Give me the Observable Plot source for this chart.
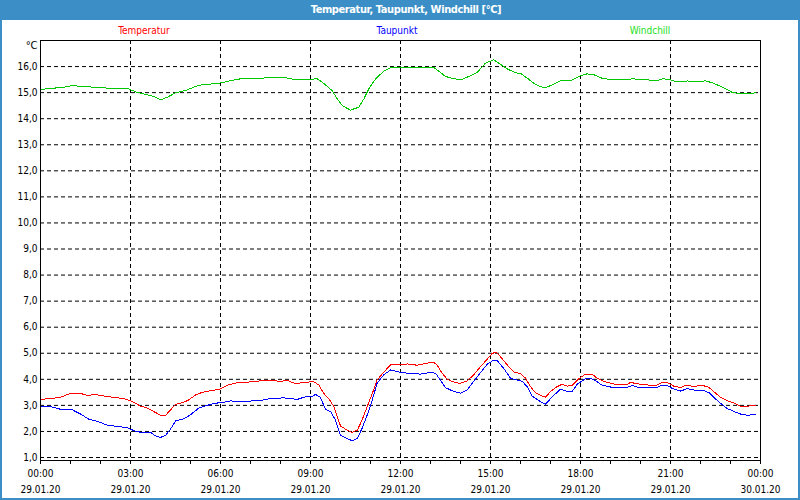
<!DOCTYPE html>
<html>
<head>
<meta charset="utf-8">
<script src="https://cdn.jsdelivr.net/npm/d3@7"></script>
<script src="https://cdn.jsdelivr.net/npm/@observablehq/plot@0.6"></script>
<style>
  html, body { margin: 0; padding: 0; background: #fff; }
  #wrap { position: relative; width: 800px; height: 500px; box-sizing: border-box;
          border: 2px solid #3c8fc6; border-top: none; overflow: hidden; background: #fff; }
  #title { height: 20px; background: #3c8fc6; color: #fff; margin: 0 -2px;
           font: bold 11px "DejaVu Sans Condensed", "DejaVu Sans", sans-serif; letter-spacing: -0.4px;
           line-height: 20px; text-align: center; padding-left: 12px; box-sizing: border-box; }
  .leg { position: absolute; top: 24px; transform: translateX(-50%); white-space: nowrap;
         font: 10px "DejaVu Sans Condensed", "DejaVu Sans", sans-serif; line-height: 13px; }
  #chart svg { display: block; }
</style>
</head>
<body>
<div id="wrap">
  <div id="title">Temperatur, Taupunkt, Windchill [°C]</div>
  <div class="leg" style="left:142px;color:#ff0000">Temperatur</div>
  <div class="leg" style="left:395px;color:#0000ff">Taupunkt</div>
  <div class="leg" style="left:648px;color:#22e022">Windchill</div>
  <div id="chart"></div>
</div>
<script>
// Hours since 29.01.20 00:00
const tempHours = [0,0.33,0.67,1.0,1.33,1.56,1.83,2.1,2.44,2.78,3.0,3.17,3.33,3.56,3.78,4.0,4.17,4.33,4.5,4.78,4.94,5.17,5.39,5.61,6.0,6.22,6.56,7.0,7.33,7.67,8.0,8.22,8.5,8.78,9.11,9.28,9.44,9.61,9.78,10.0,10.22,10.39,10.56,10.72,10.89,11.06,11.22,11.44,11.67,12.0,12.22,12.56,12.89,13.11,13.22,13.39,13.56,13.83,14.0,14.22,14.44,14.67,14.89,15.06,15.19,15.33,15.56,15.78,16.0,16.17,16.33,16.5,16.67,16.83,17.0,17.22,17.39,17.56,17.72,17.89,18.0,18.17,18.39,18.56,18.78,19.11,19.56,19.67,19.94,20.33,20.56,20.72,20.89,21.11,21.33,21.5,21.78,22.06,22.28,22.44,22.67,22.89,23.11,23.33,23.56,23.67,23.83];
const tempValues = [3.23,3.26,3.31,3.46,3.46,3.38,3.42,3.36,3.31,3.26,3.18,3.08,2.97,2.9,2.76,2.62,2.62,2.82,3.04,3.12,3.21,3.4,3.5,3.55,3.63,3.77,3.87,3.9,3.94,3.96,3.92,3.96,3.83,3.88,3.91,3.78,3.46,3.26,2.95,2.21,2.05,1.96,2.05,2.44,2.95,3.46,3.97,4.27,4.56,4.55,4.59,4.54,4.62,4.65,4.55,4.23,4.0,3.87,3.85,3.94,4.17,4.49,4.77,5.0,5.03,4.87,4.55,4.28,4.22,4.04,3.72,3.49,3.38,3.31,3.53,3.72,3.81,3.74,3.76,3.97,4.07,4.2,4.19,4.04,3.92,3.82,3.81,3.88,3.82,3.77,3.78,3.88,3.87,3.74,3.68,3.77,3.73,3.77,3.69,3.53,3.31,3.18,3.09,2.97,2.96,3.0,3.0];

const dewHours = [0,0.33,0.67,1.06,1.33,1.61,1.94,2.22,2.56,2.89,3.11,3.33,3.67,3.83,4.0,4.17,4.33,4.5,4.78,5.0,5.28,5.56,5.78,6.0,6.33,6.78,7.33,7.67,8.11,8.56,8.83,9.06,9.17,9.33,9.5,9.67,9.83,10.0,10.22,10.39,10.56,10.72,10.89,11.06,11.22,11.44,11.67,12.0,12.28,12.67,13.0,13.17,13.33,13.5,13.78,14.0,14.22,14.44,14.67,14.89,15.11,15.22,15.44,15.67,15.89,16.06,16.22,16.39,16.61,16.83,17.06,17.33,17.56,17.72,17.89,18.0,18.17,18.33,18.5,18.72,19.11,19.33,19.56,19.72,19.94,20.56,20.72,20.89,21.06,21.33,21.56,21.83,22.06,22.28,22.44,22.67,22.89,23.11,23.33,23.56,23.83];
const dewValues = [2.97,2.95,2.85,2.83,2.67,2.47,2.37,2.24,2.19,2.15,2.03,1.97,1.97,1.83,1.77,1.85,2.08,2.4,2.49,2.64,2.9,3.0,3.08,3.1,3.17,3.15,3.19,3.26,3.29,3.23,3.33,3.35,3.42,3.31,2.85,2.76,2.44,1.86,1.73,1.64,1.73,2.12,2.63,3.21,3.85,4.17,4.36,4.27,4.23,4.2,4.27,4.23,3.97,3.68,3.53,3.47,3.59,3.92,4.26,4.58,4.74,4.72,4.42,4.04,3.97,3.92,3.72,3.36,3.18,3.04,3.33,3.62,3.53,3.53,3.81,3.9,4.03,4.04,3.95,3.77,3.68,3.68,3.69,3.76,3.69,3.69,3.78,3.77,3.65,3.55,3.64,3.58,3.59,3.49,3.31,3.08,2.88,2.77,2.67,2.62,2.65];

const windHours = [0,0.44,0.78,1.06,1.44,2.11,2.44,2.94,3.22,3.56,3.78,4.0,4.22,4.5,4.83,5.11,5.33,5.67,6.06,6.33,6.67,7.22,7.67,8.22,8.5,8.78,9.22,9.39,9.72,9.89,10.06,10.33,10.61,10.78,10.94,11.17,11.44,11.67,12.78,13.11,13.5,13.72,14.0,14.28,14.56,14.83,15.11,15.28,15.56,15.83,16.0,16.22,16.44,16.67,16.83,17.0,17.33,17.67,18.0,18.22,18.44,18.72,19.11,19.56,19.72,20.22,20.56,20.72,20.94,21.17,21.39,21.56,21.72,22.17,22.44,22.78,23.06,23.33,23.56,23.83];
const windValues = [15.12,15.17,15.21,15.27,15.23,15.19,15.14,15.14,15.01,14.92,14.85,14.72,14.82,14.99,15.08,15.21,15.29,15.33,15.38,15.46,15.53,15.54,15.58,15.56,15.49,15.5,15.53,15.4,15.08,14.76,14.5,14.33,14.44,14.76,15.14,15.53,15.82,15.95,15.95,15.97,15.62,15.55,15.49,15.62,15.78,16.13,16.26,16.13,15.91,15.76,15.74,15.56,15.36,15.23,15.18,15.27,15.46,15.45,15.65,15.72,15.69,15.55,15.49,15.49,15.53,15.49,15.46,15.53,15.51,15.42,15.42,15.45,15.42,15.45,15.36,15.18,15.01,14.96,14.96,14.99];

const yTicks = [1,2,3,4,5,6,7,8,9,10,11,12,13,14,15,16];
const xLabelHours = [0,3,6,9,12,15,18,21,24];
const timeLabels = ["00:00","03:00","06:00","09:00","12:00","15:00","18:00","21:00","00:00"];
const dateLabels = ["29.01.20","29.01.20","29.01.20","29.01.20","29.01.20","29.01.20","29.01.20","29.01.20","30.01.20"];
const minorHours = d3.range(0, 25);
const gridHours = [3,6,9,12,15,18,21];

const toRows = (hs, vs) => hs.map((h, i) => ({h, v: vs[i]}));
const temp = toRows(tempHours, tempValues);
const dew = toRows(dewHours, dewValues);
const wind = toRows(windHours, windValues);

const fmtY = d => d.toFixed(1).replace(".", ",");
const fmtX = h => { const i = xLabelHours.indexOf(h); return timeLabels[i] + "\n" + dateLabels[i]; };

const dash = "4,3";
const chart = Plot.plot({
  width: 796, height: 478,
  marginLeft: 38, marginRight: 38, marginTop: 20, marginBottom: 38,
  x: {domain: [0, 24], label: null},
  y: {domain: [0.885, 17.0], label: null},
  style: {fontFamily: '"DejaVu Sans Condensed", "DejaVu Sans", sans-serif', fontSize: "10px", color: "#000", background: "#fff", overflow: "visible"},
  marks: [
    Plot.ruleY(yTicks, {stroke: "#000", strokeDasharray: dash}),
    Plot.ruleX(gridHours, {stroke: "#000", strokeDasharray: dash}),
    Plot.line(wind, {x: "h", y: "v", stroke: "#00c800", strokeWidth: 1, shapeRendering: "crispEdges"}),
    Plot.line(dew, {x: "h", y: "v", stroke: "#0000ff", strokeWidth: 1, shapeRendering: "crispEdges"}),
    Plot.line(temp, {x: "h", y: "v", stroke: "#ff0000", strokeWidth: 1, shapeRendering: "crispEdges"}),
    Plot.frame({stroke: "#000"}),
    Plot.axisY({ticks: yTicks, tickSize: 0, tickPadding: 3, tickFormat: fmtY, label: null}),
    Plot.axisX({ticks: minorHours, tickSize: 4, tickFormat: () => "", label: null}),
    Plot.axisX({ticks: xLabelHours, tickSize: 0, tickPadding: 5, tickFormat: fmtX, lineHeight: 1.6, label: null}),
    Plot.text(["°C"], {text: d => d, frameAnchor: "top-left", textAnchor: "end", lineAnchor: "middle", dx: -3, dy: 5, fontSize: 11})
  ]
});
document.getElementById("chart").appendChild(chart);
</script>
</body>
</html>
